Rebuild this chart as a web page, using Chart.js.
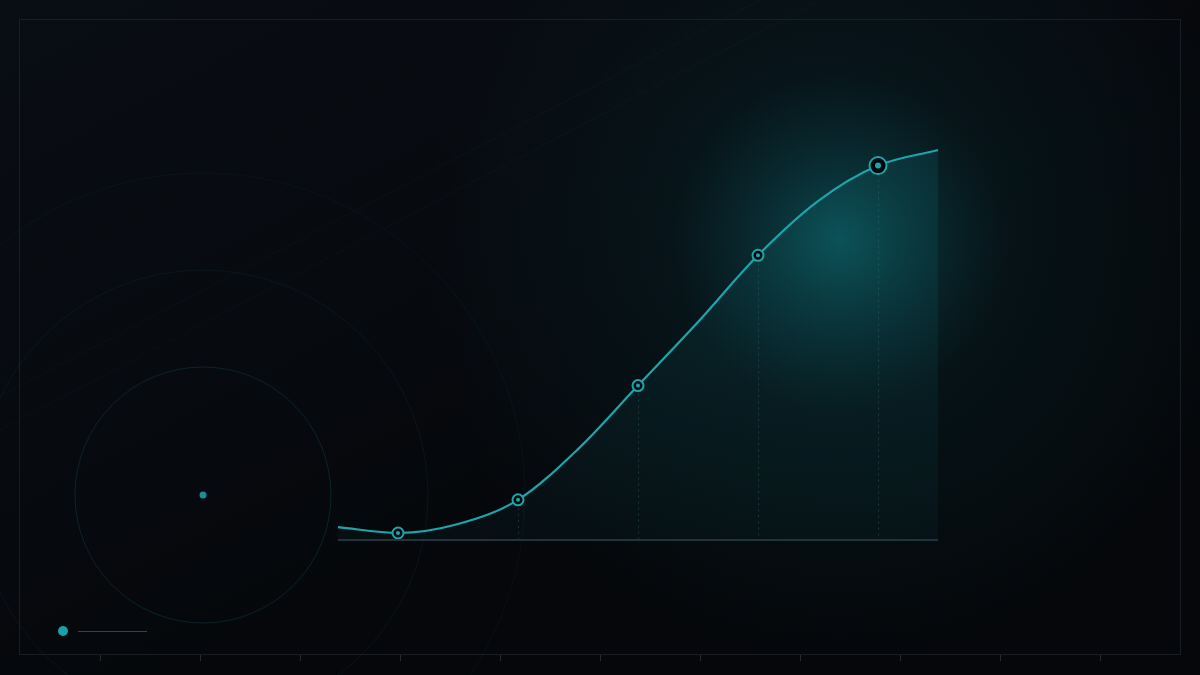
<!DOCTYPE html>
<html>
<head>
<meta charset="utf-8">
<script src="https://cdn.jsdelivr.net/npm/chart.js@4.4.1/dist/chart.umd.min.js"></script>
<style>
  html, body { margin: 0; padding: 0; background: #06090d; }
  #wrap { width: 1200px; height: 675px; position: relative; }
  canvas { display: block; }
</style>
</head>
<body>
<div id="wrap"><canvas id="c" width="1200" height="675"></canvas></div>
<script>
// ---- data ----
const stepLabels = ['T0','T1','T2','T3','T4','T5','T6','T7','T8','T9','T10'];
const curveValues = [3.3, 1.8, 4.1, 10.3, 23.3, 39.6, 55.9, 73.0, 86.9, 96.0, 100];
const markerSteps = ['T1','T3','T5','T7','T9'];
const highlightStep = 'T9';
const tickMarks = [100, 200, 300, 400, 500, 600, 700, 800, 900, 1000, 1100];

const TEAL = '#1ba6ac';
const BG_DARK = '#05080b';

const isMarker = (i) => markerSteps.includes(stepLabels[i]);
const isHighlight = (i) => stepLabels[i] === highlightStep;

const backdrop = {
  id: 'backdrop',
  beforeDraw(chart) {
    const ctx = chart.ctx;
    const W = chart.width, H = chart.height;
    ctx.save();
    // base background
    let g = ctx.createLinearGradient(0, 0, W * 0.3, H);
    g.addColorStop(0, '#090d14');
    g.addColorStop(1, '#05070a');
    ctx.fillStyle = g;
    ctx.fillRect(0, 0, W, H);
    // broad teal haze
    let rg0 = ctx.createRadialGradient(840, 250, 0, 840, 250, 420);
    rg0.addColorStop(0, 'rgba(10,70,78,0.30)');
    rg0.addColorStop(1, 'rgba(10,70,78,0)');
    ctx.fillStyle = rg0;
    ctx.fillRect(0, 0, W, H);
    // glow
    let rg = ctx.createRadialGradient(840, 240, 0, 840, 240, 170);
    rg.addColorStop(0, 'rgba(12,100,106,0.65)');
    rg.addColorStop(0.5, 'rgba(12,85,92,0.3)');
    rg.addColorStop(1, 'rgba(10,70,78,0)');
    ctx.fillStyle = rg;
    ctx.fillRect(0, 0, W, H);

    // diagonal faint lines
    ctx.strokeStyle = 'rgba(60,80,90,0.10)';
    ctx.lineWidth = 1;
    ctx.beginPath(); ctx.moveTo(0, 396); ctx.lineTo(760, 0); ctx.stroke();
    ctx.beginPath(); ctx.moveTo(0, 430); ctx.lineTo(820, 0); ctx.stroke();

    // decorative circles
    [[128, 'rgba(20,80,85,0.38)'], [225, 'rgba(20,70,75,0.22)'], [322, 'rgba(20,70,75,0.14)']].forEach(([r, c]) => {
      ctx.strokeStyle = c;
      ctx.beginPath(); ctx.arc(203, 495, r, 0, Math.PI * 2); ctx.stroke();
    });
    ctx.fillStyle = '#139298';
    ctx.beginPath(); ctx.arc(203, 495, 3.5, 0, Math.PI * 2); ctx.fill();

    // frame
    ctx.strokeStyle = '#181e24';
    ctx.strokeRect(19.5, 19.5, 1161, 635);
    // bottom ticks
    ctx.strokeStyle = '#262c32';
    tickMarks.forEach(x => {
      ctx.beginPath(); ctx.moveTo(x + 0.5, 655); ctx.lineTo(x + 0.5, 661); ctx.stroke();
    });

    // legend
    ctx.fillStyle = '#17a2aa';
    ctx.beginPath(); ctx.arc(63, 631, 5, 0, Math.PI * 2); ctx.fill();
    ctx.strokeStyle = '#3a4046';
    ctx.beginPath(); ctx.moveTo(78, 631.5); ctx.lineTo(147, 631.5); ctx.stroke();
    ctx.restore();
  },
  beforeDatasetsDraw(chart) {
    const ctx = chart.ctx;
    const area = chart.chartArea;
    const meta = chart.getDatasetMeta(0);
    ctx.save();
    // drop lines
    ctx.strokeStyle = 'rgba(70,120,125,0.35)';
    ctx.setLineDash([2, 4]);
    ctx.lineWidth = 1;
    meta.data.forEach((pt, i) => {
      if (!isMarker(i)) return;
      ctx.beginPath();
      ctx.moveTo(Math.round(pt.x) + 0.5, pt.y + 8);
      ctx.lineTo(Math.round(pt.x) + 0.5, area.bottom);
      ctx.stroke();
    });
    ctx.restore();
  },
  afterDatasetsDraw(chart) {
    const ctx = chart.ctx;
    const area = chart.chartArea;
    ctx.save();
    ctx.strokeStyle = '#24333a';
    ctx.lineWidth = 2;
    ctx.beginPath(); ctx.moveTo(area.left, area.bottom); ctx.lineTo(area.right, area.bottom); ctx.stroke();
    ctx.restore();
  }
};

new Chart(document.getElementById('c'), {
  type: 'line',
  data: {
    labels: stepLabels,
    datasets: [
      {
        data: curveValues,
        borderColor: TEAL,
        borderWidth: 2.2,
        cubicInterpolationMode: 'monotone',
        fill: 'origin',
        backgroundColor: (c) => {
          const a = c.chart.chartArea;
          if (!a) return 'rgba(20,140,145,0.1)';
          const g = c.chart.ctx.createLinearGradient(0, a.top, 0, a.bottom);
          g.addColorStop(0, 'rgba(20,140,150,0.14)');
          g.addColorStop(1, 'rgba(20,140,150,0.05)');
          return g;
        },
        pointRadius: curveValues.map((v, i) => isMarker(i) ? (isHighlight(i) ? 8.5 : 5.5) : 0),
        pointBackgroundColor: BG_DARK,
        pointBorderColor: TEAL,
        pointBorderWidth: 2,
        clip: false,
        order: 2
      },
      {
        data: curveValues,
        showLine: false,
        pointRadius: curveValues.map((v, i) => isMarker(i) ? (isHighlight(i) ? 3 : 2) : 0),
        pointBackgroundColor: TEAL,
        pointBorderWidth: 0,
        clip: false,
        order: 1
      }
    ]
  },
  options: {
    responsive: false,
    animation: false,
    layout: { padding: { left: 338, right: 262, top: 150, bottom: 135 } },
    scales: {
      x: { type: 'category', display: false, offset: false },
      y: { display: false, min: 0, max: 100 }
    },
    plugins: { legend: { display: false }, tooltip: { enabled: false } },
    events: []
  },
  plugins: [backdrop]
});
</script>
</body>
</html>
